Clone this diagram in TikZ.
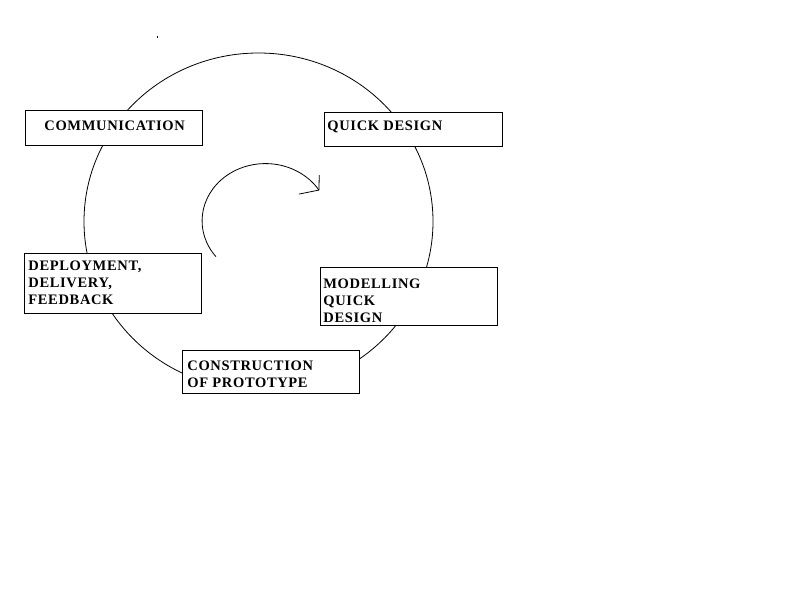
\documentclass[tikz,border=0pt]{standalone}
\usepackage{fontspec}
\setmainfont{Liberation Serif}
\newfontfamily\lblfont{Liberation Serif}[LetterSpace=4.5]
\begin{document}
\begin{tikzpicture}[x=1pt,y=1pt,
  line width=0.8pt,
  stagebox/.style={draw=black, fill=white, rectangle, inner sep=0pt, anchor=north west},
  stagetext/.style={anchor=north west, inner sep=0pt, align=left,
    font=\lblfont\bfseries\fontsize{14.5}{17}\selectfont}
]
\useasboundingbox[fill=white] (0,0) rectangle (793,-596);

% small dot
\fill (157,-36) rectangle (158,-38);

% big cycle
\coordinate (cyc) at (258.5,-221.5);
\draw (cyc) ellipse [x radius=174.5, y radius=168.5];

% inner curved arrow
\coordinate (arcstart) at (216,-256.7);
\draw (arcstart) arc [start angle=218.7, end angle=32.5, x radius=63.4, y radius=57.3] coordinate (tip);
\draw (tip) -- ++(0.3,15);
\draw (tip) -- ++(-20,-4);

% boxes
\node[stagebox, minimum width=177, minimum height=35] (comm) at (25,-110) {};
\node[stagebox, minimum width=178, minimum height=34] (qd) at (324,-112) {};
\node[stagebox, minimum width=177, minimum height=60] (dep) at (24,-253) {};
\node[stagebox, minimum width=177, minimum height=58] (mod) at (320,-267) {};
\node[stagebox, minimum width=177, minimum height=43] (con) at (182,-350) {};

% texts
\node[stagetext] (commt) at (44,-120.5) {COMMUNICATION};
\node[stagetext] (qdt) at (327,-120.5) {QUICK DESIGN};
\node[stagetext] (dept) at (28,-260.5) {DEPLOYMENT,\\DELIVERY,\\FEEDBACK};
\node[stagetext] (modt) at (323,-278) {MODELLING\\QUICK\\DESIGN};
\node[stagetext] (cont) at (187,-360.5) {CONSTRUCTION\\OF PROTOTYPE};
\end{tikzpicture}
\end{document}
